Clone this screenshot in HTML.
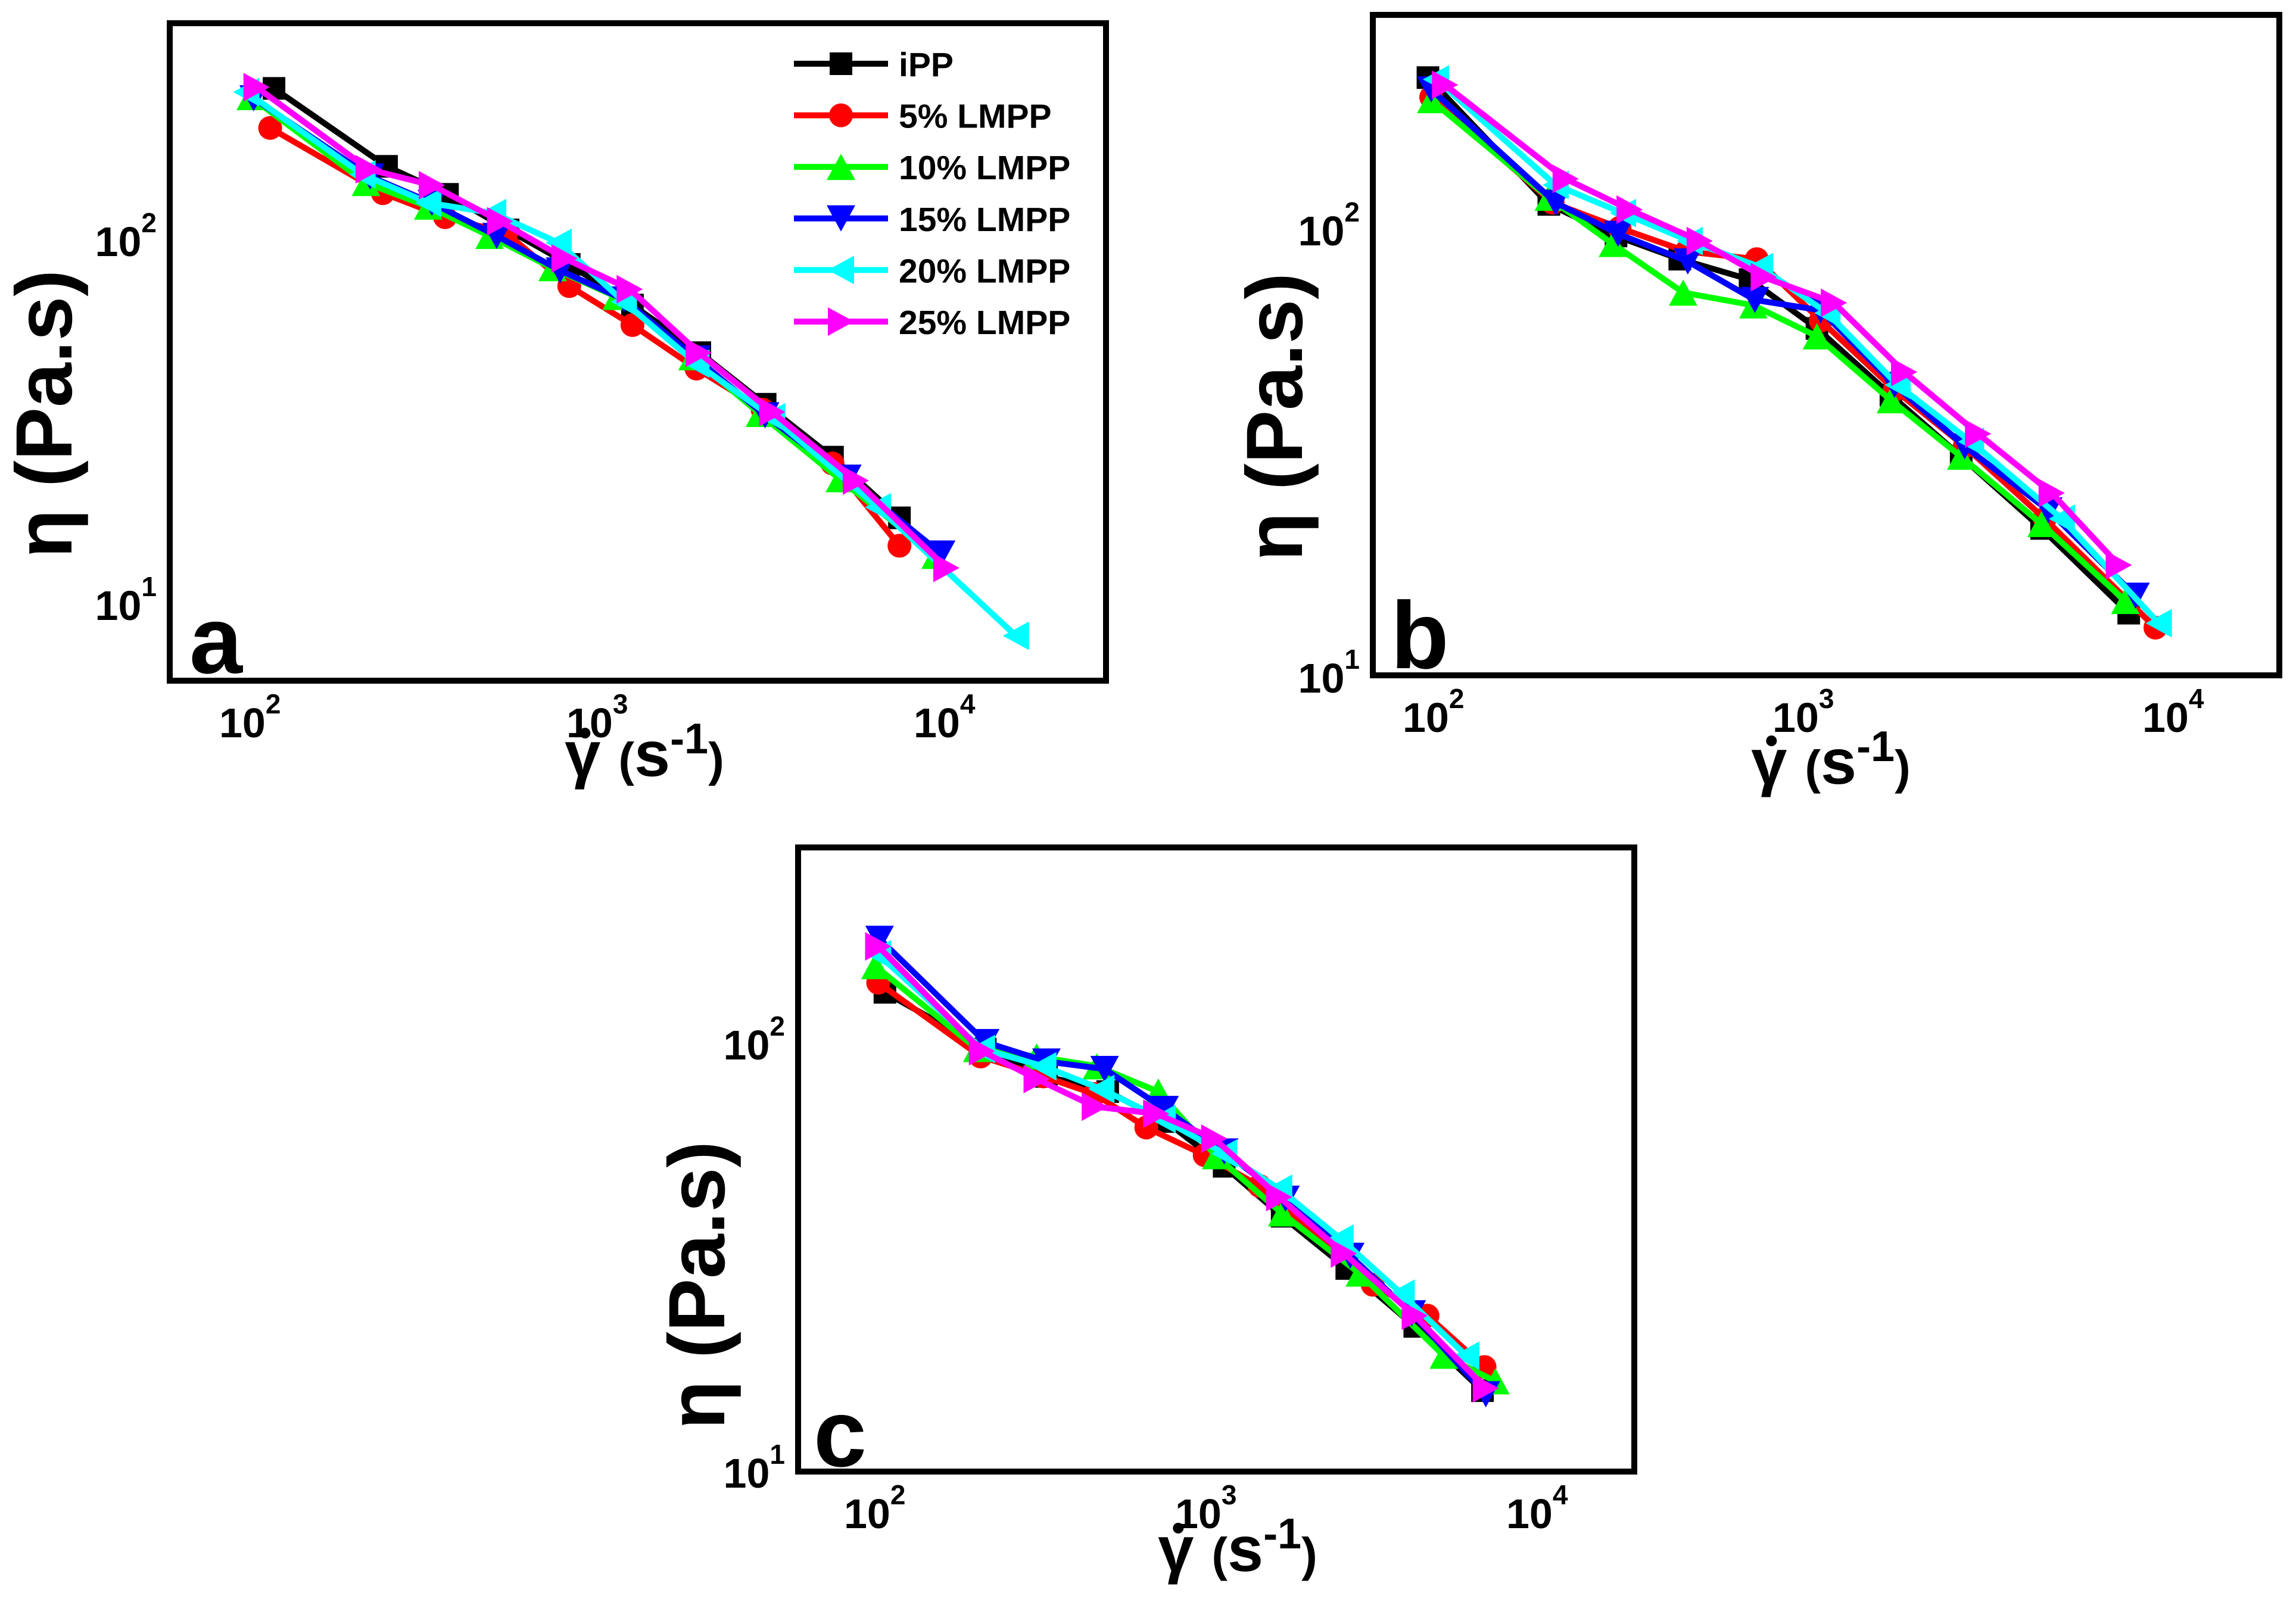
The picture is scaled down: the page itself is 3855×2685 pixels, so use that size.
<!DOCTYPE html>
<html><head><meta charset="utf-8"><style>
html,body{margin:0;padding:0;background:#fff;}
svg{display:block;font-family:"Liberation Sans",Arial,sans-serif;font-weight:bold;}
</style></head><body>
<svg id="fig" width="3855" height="2685" viewBox="0 0 3855 2685" xmlns="http://www.w3.org/2000/svg"></svg>
<script>
// ---------- data (shear rate s^-1, viscosity Pa.s) ----------
const seriesNames = ["iPP","5% LMPP","10% LMPP","15% LMPP","20% LMPP","25% LMPP"];
// panel a
const a_iPP_x = [119,251,376,562,843,1282,2004,3090,4830,7530];
const a_iPP_y = [262,160,134,107,86,66.5,49.2,35.5,25.4,17.3];
const a_5_x = [116,245,370,555,843,1282,1960,3040,4830,7530];
const a_5_y = [204,135,116,105,75,58.6,44.5,34.3,24.4,14.5];
const a_10_x = [102,219,331,497,755,1154,1910,2985,5070,9570];
const a_10_y = [248,144,124,103,84,70,47.8,33.4,22.1,13.6];
const a_15_x = [104,225,339,521,793,1211,1960,3090,5330,9930];
const a_15_y = [246,150,127,103,82.8,68.9,47.4,33.1,22.3,13.8];
const a_20_x = [99,214,331,509,786,1211,1960,3240,6530,16300];
const a_20_y = [256,152,127,119,98.6,67.9,45.9,32.7,18.5,8.2];
const a_25_x = [106,223,339,533,817,1259,1990,3240,5640,10280];
const a_25_y = [264,157,142,113,89.3,73.5,49.2,33.8,21.9,12.6];
// panel b
const b_iPP_x = [98,208,316,470,728,1104,1750,2710,4470,7690];
const b_iPP_y = [219,114,96.9,86,77.4,60.2,42.7,31.1,21.5,13.9];
const b_5_x = [100,213,323,490,759,1130,1790,2770,4560,9080];
const b_5_y = [198,115,101,89.5,86,62.7,43.9,32.8,22.6,12.9];
const b_10_x = [100,208,310,480,743,1104,1750,2710,4470,7530];
const b_10_y = [195,118,93,72.4,67.8,57.8,41.6,31.1,22,14.8];
const b_15_x = [100,217,320,494,750,1130,1790,2770,4660,8020];
const b_15_y = [206,115,98,85,69.7,66.1,45,32.8,23.6,15.2];
const b_20_x = [103,217,330,500,775,1178,1824,2880,5070,9270];
const b_20_y = [217,126,109,94.4,82.6,65.2,45,33.6,22.6,13.2];
const b_25_x = [109,231,344,532,793,1227,1900,3010,4760,7230];
const b_25_y = [211,130,111,94.4,78.4,68.7,48.1,35,25.8,17.8];
// panel c
const c_iPP_x = [109,219,335,513,769,1153,1726,2705,4340,6950];
const c_iPP_y = [132,97.3,84,77.4,65.9,51.8,39.6,29.9,21.9,15.5];
const c_5_x = [104,212,328,469,671,1007,1475,3240,4740,7050];
const c_5_y = [139,93.5,84,76.4,63.8,55,46.6,27.4,23.2,17.6];
const c_10_x = [102,207,313,476,729,1091,1726,2960,5310,7600];
const c_10_y = [152,97.3,93.5,88.7,77.4,54.7,40.2,29.1,18.7,16.3];
const c_15_x = [105,219,335,502,762,1153,1766,2770,4250,7110];
const c_15_y = [176,101,91,87.4,70.5,56.1,43.5,32,23.5,15.2];
const c_20_x = [104,214,328,491,752,1153,1690,2590,3960,6210];
const c_20_y = [162,97.3,88.7,78.5,66.8,55.5,45.9,35.1,26.1,18.7];
const c_25_x = [104,214,313,469,719,1076,1690,2650,4340,7110];
const c_25_y = [169,96.2,82.8,71.4,68.7,60.1,43.9,32.4,23.2,15.7];
const xTickLabels = ["2","3","4"];
const yTickLabels = ["1","2"];

// ---------- layout ----------
const colors = ["#000000","#ff0000","#00ff00","#0000ff","#00ffff","#ff00ff"];
const markers = ["square","circle","up","down","left","right"];
const NS = "http://www.w3.org/2000/svg";
const svg = document.getElementById("fig");
function mk(tag, attrs, parent){
  const e = document.createElementNS(NS, tag);
  for (const k in attrs) e.setAttribute(k, attrs[k]);
  (parent||svg).appendChild(e);
  return e;
}
const panels = [
  {id:"a", frame:[285,39,1857,1143], x2:416, xd:583, y2:404, yd:611,
   data:[[a_iPP_x,a_iPP_y],[a_5_x,a_5_y],[a_10_x,a_10_y],[a_15_x,a_15_y],[a_20_x,a_20_y],[a_25_x,a_25_y]],
   ytitle:[74,695], xtitle:[1082,1303], letter:[318,1130]},
  {id:"b", frame:[2305,25,3827,1134], x2:2403, xd:621, y2:386, yd:751,
   data:[[b_iPP_x,b_iPP_y],[b_5_x,b_5_y],[b_10_x,b_10_y],[b_15_x,b_15_y],[b_20_x,b_20_y],[b_25_x,b_25_y]],
   ytitle:[2140,700], xtitle:[3074,1316], letter:[2335,1122]},
  {id:"c", frame:[1340,1423,2744,2471], x2:1465, xd:556, y2:1753, yd:719,
   data:[[c_iPP_x,c_iPP_y],[c_5_x,c_5_y],[c_10_x,c_10_y],[c_15_x,c_15_y],[c_20_x,c_20_y],[c_25_x,c_25_y]],
   ytitle:[1170,2158], xtitle:[2078,2638], letter:[1366,2462]}
];

function drawMarker(g, type, cx, cy, col){
  const s = 19;
  let e;
  if (type==="square") e = mk("rect",{x:cx-s,y:cy-s,width:2*s,height:2*s,fill:col},g);
  else if (type==="circle") e = mk("circle",{cx:cx,cy:cy,r:20,fill:col},g);
  else {
    const w=24,h=22; let p;
    if (type==="up") p=[[cx,cy-h],[cx+w,cy+h],[cx-w,cy+h]];
    else if (type==="down") p=[[cx,cy+h],[cx+w,cy-h],[cx-w,cy-h]];
    else if (type==="left") p=[[cx-h,cy],[cx+h,cy-w],[cx+h,cy+w]];
    else p=[[cx+h,cy],[cx-h,cy-w],[cx-h,cy+w]];
    e = mk("polygon",{points:p.map(q=>q.join(",")).join(" "),fill:col},g);
  }
  return e;
}

panels.forEach(P=>{
  const g = mk("g",{});
  
  
  const xs = v => P.x2 + (Math.log10(v)-2)*P.xd;
  const ys = v => P.y2 - (Math.log10(v)-2)*P.yd;
  const [L,T,R,B] = P.frame;
  P.data.forEach((d,i)=>{
    const sg = mk("g",{},g);
    
    
    const pts = d[0].map((x,k)=>xs(x).toFixed(1)+","+ys(d[1][k]).toFixed(1)).join(" ");
    const pl = mk("polyline",{points:pts,fill:"none",stroke:colors[i],"stroke-width":10,"stroke-linejoin":"miter"},sg);
    
    
    d[0].forEach((x,k)=>{
      const m = drawMarker(sg, markers[i], xs(x), ys(d[1][k]), colors[i]);
      
      
    });
  });
  const fr = mk("rect",{x:L,y:T,width:R-L,height:B-T,fill:"none",stroke:"#000","stroke-width":10},g);
  
  
  xTickLabels.forEach(t=>{
    const x = xs(Math.pow(10, +t));
    const tx = mk("text",{x:x-48,y:B+95,"font-size":70},g);
    
    
    tx.appendChild(document.createTextNode("10"));
    const sp = mk("tspan",{dy:-40,"font-size":46},tx);
    sp.textContent = t;
  });
  yTickLabels.forEach(t=>{
    const y = ys(Math.pow(10, +t));
    const tx = mk("text",{x:L-22,y:y+26,"font-size":70,"text-anchor":"end"},g);
    
    
    tx.appendChild(document.createTextNode("10"));
    const sp = mk("tspan",{dy:-40,"font-size":46},tx);
    sp.textContent = t;
  });
  const yt = mk("text",{x:P.ytitle[0],y:P.ytitle[1],"font-size":134,"text-anchor":"middle",transform:"rotate(-90 "+P.ytitle[0]+" "+P.ytitle[1]+")",dy:46},g);
  
  
  yt.textContent = "η (Pa.s)";
  const xt = mk("text",{x:P.xtitle[0],y:P.xtitle[1],"font-size":108,"text-anchor":"middle"},g);
  
  
  const t1 = mk("tspan",{},xt); t1.textContent = "γ ";
  const t2 = mk("tspan",{"font-size":80},xt); t2.textContent = "(";
  const t3 = mk("tspan",{},xt); t3.textContent = "s";
  const t4 = mk("tspan",{"font-size":72,dy:-38},xt); t4.textContent = "-1";
  const t5 = mk("tspan",{"font-size":80,dy:38},xt); t5.textContent = ")";
  try {
    const bb = xt.getBBox();
    const gw = xt.getSubStringLength(0,1);
    const dot = mk("circle",{cx:bb.x+gw/2+4,cy:P.xtitle[1]-72,r:9,fill:"#000"},g);
    
    
  } catch(e) {}
  const lt = mk("text",{x:P.letter[0],y:P.letter[1],"font-size":160},g);
  
  
  lt.textContent = P.id;
});

const lg = mk("g",{});


seriesNames.forEach((n,i)=>{
  const y = 107 + i*86.6;
  const eg = mk("g",{},lg);
  
  
  mk("line",{x1:1333,y1:y,x2:1491,y2:y,stroke:colors[i],"stroke-width":10},eg);
  drawMarker(eg, markers[i], 1412, y, colors[i]);
  const t = mk("text",{x:1509,y:y+21,"font-size":57},eg);
  t.textContent = n;
});
</script>
</body></html>
